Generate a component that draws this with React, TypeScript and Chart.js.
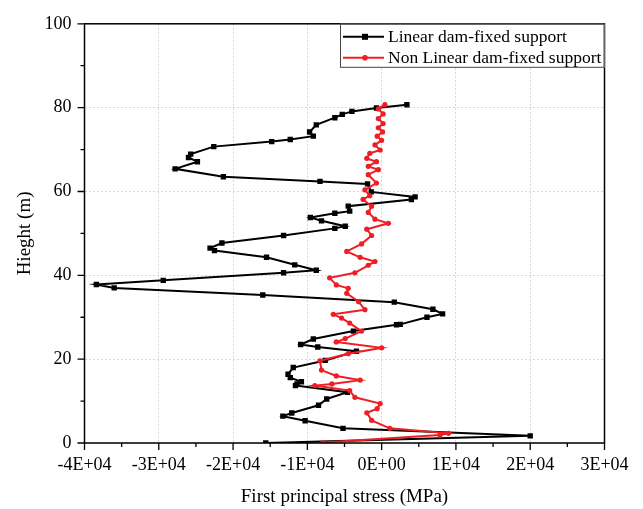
import React, { useEffect, useRef } from 'react';
import { Chart, registerables } from 'chart.js';

Chart.register(...registerables);

// Linear dam-fixed support (black)
const linearStress = [
  -15600, 20000, -5200, -10300, -13300, -12100, -8500, -7400, -4600, -11600,
  -11400, -10800, -12300, -12600, -11900, -7600, -3400, -8600, -10900, -9200,
  -3800, 2000, 2500, 6100, 8200, 6900, 1700, -16000, -36000, -38400,
  -29400, -13200, -8800, -11700, -15500, -22500, -23100, -21500, -13200, -6300,
  -4900, -8100, -9600, -6300, -4300, -4500, 4000, 4500, -1400, -1900,
  -8300, -21300, -27800, -24800, -26000, -25700, -22600, -14800, -12300, -9200,
  -9700, -8800, -6300, -5300, -4000, -700, 3400,
];
const linearHeight = [
  0, 1.7, 3.5, 5.3, 6.4, 7.15, 9.0, 10.5, 12.1, 13.7,
  14.1, 14.6, 15.6, 16.4, 18.0, 19.7, 21.9, 22.9, 23.5, 24.8,
  26.7, 28.2, 28.3, 30.0, 30.8, 31.9, 33.6, 35.3, 37.0, 37.8,
  38.8, 40.6, 41.2, 42.5, 44.3, 45.9, 46.5, 47.7, 49.5, 51.2,
  51.7, 53.0, 53.8, 54.8, 55.3, 56.5, 58.1, 58.7, 59.9, 61.8,
  62.4, 63.5, 65.4, 67.1, 68.1, 68.9, 70.7, 71.9, 72.4, 73.2,
  74.2, 75.9, 77.6, 78.4, 79.1, 79.9, 80.7,
];

// Non Linear dam-fixed support (red)
const nonLinearStress = [
  -7900, 7850, 9000, 1100, -1350, -2000, -600, -200, -3600, -4300,
  -9000, -6700, -2900, -6100, -8100, -8300, -4500, 0, -6100, -4900,
  -2700, -4300, -5400, -6500, -2250, -3100, -4700, -4500, -6100, -7000,
  -3600, -1800, -900, -2900, -4700, -2700, -1350, -2000, 900, -900,
  -1800, -1350, -2500, -1600, -2250, -700, -1800, -450, -1800, -700,
  -2000, -1600, -200, -900, 0, -600, 130, -450, 200, -450,
  200, -450, 440,
];
const nonLinearHeight = [
  0.1, 1.9, 2.3, 3.5, 5.4, 7.2, 8.2, 9.4, 10.9, 12.5,
  13.7, 14.1, 15.0, 16.0, 17.4, 19.6, 21.3, 22.7, 24.1, 24.9,
  26.7, 28.6, 29.8, 30.7, 31.8, 33.7, 35.7, 36.9, 37.7, 39.4,
  40.6, 42.4, 43.3, 44.3, 45.7, 47.5, 49.5, 51.0, 52.4, 53.4,
  55.0, 56.5, 58.1, 59.0, 60.4, 62.0, 64.0, 65.2, 66.0, 67.1,
  67.9, 69.1, 69.9, 71.1, 72.2, 73.2, 74.2, 75.2, 76.2, 77.4,
  78.5, 79.7, 80.7,
];

const seriesNames = ['Linear dam-fixed support', 'Non Linear dam-fixed support'];

const xTickValues = [-40000, -30000, -20000, -10000, 0, 10000, 20000, 30000];
const xTickLabels = ['-4E+04', '-3E+04', '-2E+04', '-1E+04', '0E+00', '1E+04', '2E+04', '3E+04'];
const yTickValues = [0, 20, 40, 60, 80, 100];
const yTickLabels = ['0', '20', '40', '60', '80', '100'];

const xTitle = 'First principal stress (MPa)';
const yTitle = 'Hieght (m)';

const FONT = "'Liberation Serif', 'Times New Roman', serif";
const RED = 'rgb(238,30,36)';

const frameAndLegend = {
  id: 'frameAndLegend',
  afterDraw(chart: any) {
    const { ctx, chartArea: a, scales } = chart;
    const xs = scales.x;
    const ys = scales.y;
    ctx.save();
    // frame
    ctx.strokeStyle = '#000';
    ctx.lineWidth = 1.5;
    ctx.strokeRect(a.left, a.top, a.right - a.left, a.bottom - a.top);
    // tick marks
    ctx.lineWidth = 1.3;
    ctx.beginPath();
    for (let v = xs.min; v <= xs.max; v += 5000) {
      const p = xs.getPixelForValue(v);
      const len = v % 10000 === 0 ? 7 : 4;
      ctx.moveTo(p, a.bottom);
      ctx.lineTo(p, a.bottom + len);
    }
    for (let v = ys.min; v <= ys.max; v += 10) {
      const p = ys.getPixelForValue(v);
      const len = v % 20 === 0 ? 7 : 4;
      ctx.moveTo(a.left, p);
      ctx.lineTo(a.left - len, p);
    }
    ctx.stroke();

    // legend
    const bx = 340;
    const by = a.top;
    const bw = a.right - bx;
    const bh = 44;
    ctx.fillStyle = '#fff';
    ctx.fillRect(bx, by, bw, bh);
    ctx.strokeStyle = '#444';
    ctx.lineWidth = 1;
    ctx.strokeRect(bx + 0.5, by + 0.5, bw - 1, bh - 1);
    const rows = [by + 13, by + 34];
    chart.data.datasets.forEach((ds: any, i: number) => {
      const y = rows[i];
      ctx.strokeStyle = ds.borderColor;
      ctx.lineWidth = 2;
      ctx.beginPath();
      ctx.moveTo(343, y);
      ctx.lineTo(384, y);
      ctx.stroke();
      ctx.fillStyle = ds.borderColor;
      if (ds.pointStyle === 'rect') {
        ctx.fillRect(362, y - 3, 6, 6);
      } else {
        ctx.beginPath();
        ctx.arc(365, y, 2.8, 0, Math.PI * 2);
        ctx.fill();
      }
      ctx.fillStyle = '#000';
      ctx.font = `17.5px ${FONT}`;
      ctx.textBaseline = 'middle';
      ctx.textAlign = 'left';
      ctx.fillText(ds.label, 388, y + 1);
    });
    ctx.restore();
  },
};

export default function App() {
  const ref = useRef<HTMLCanvasElement | null>(null);
  useEffect(() => {
    if (!ref.current) return;
    const black = linearStress.map((s, i) => ({ x: s, y: linearHeight[i] }));
    const red = nonLinearStress.map((s, i) => ({ x: s, y: nonLinearHeight[i] }));
    const gridColor = (major: number) => (c: any) => {
      const v = c.tick ? c.tick.value : 0;
      return v % major === 0 ? '#d6d6d6' : 'rgba(0,0,0,0)';
    };
    const chart = new Chart(ref.current, {
      type: 'line',
      data: {
        datasets: [
          {
            label: seriesNames[0],
            data: black,
            borderColor: '#000',
            backgroundColor: '#000',
            borderWidth: 2,
            pointStyle: 'rect',
            pointRadius: 3.8,
            pointBorderWidth: 0,
            tension: 0,
            order: 2,
          },
          {
            label: seriesNames[1],
            data: red,
            borderColor: RED,
            backgroundColor: RED,
            borderWidth: 2,
            pointStyle: 'circle',
            pointRadius: 2.6,
            pointBorderWidth: 0,
            tension: 0,
            order: 1,
          },
        ],
      },
      options: {
        responsive: false,
        animation: false,
        devicePixelRatio: 1,
        layout: { padding: { top: 19, right: 38.5, left: 0, bottom: 0 } },
        plugins: { legend: { display: false }, tooltip: { enabled: false } },
        scales: {
          x: {
            type: 'linear',
            min: -40000,
            max: 30000,
            afterFit: (s: any) => { s.height = 66; },
            ticks: {
              stepSize: 5000,
              autoSkip: false,
              maxRotation: 0,
              padding: 11,
              color: '#000',
              font: { family: FONT, size: 18 },
              callback: (v: any) => {
                const i = xTickValues.indexOf(Number(v));
                return i >= 0 ? xTickLabels[i] : '';
              },
            },
            grid: { drawTicks: false, color: gridColor(10000), lineWidth: 1 },
            border: { display: false, dash: [2, 2] },
            title: {
              display: true,
              text: xTitle,
              color: '#000',
              font: { family: FONT, size: 19 },
              padding: { top: 0, bottom: 1 },
            },
          },
          y: {
            type: 'linear',
            min: 0,
            max: 100,
            afterFit: (s: any) => { s.width = 84.5; },
            ticks: {
              stepSize: 10,
              autoSkip: false,
              padding: 13,
              color: '#000',
              font: { family: FONT, size: 18 },
              callback: (v: any) => {
                const i = yTickValues.indexOf(Number(v));
                return i >= 0 ? yTickLabels[i] : '';
              },
            },
            grid: { drawTicks: false, color: gridColor(20), lineWidth: 1 },
            border: { display: false, dash: [2, 2] },
            title: {
              display: true,
              text: yTitle,
              color: '#000',
              font: { family: FONT, size: 19 },
              padding: { top: 13.5, bottom: 0 },
            },
          },
        },
      },
      plugins: [frameAndLegend],
    } as any);
    return () => chart.destroy();
  }, []);
  return (
    <div style={{ position: 'absolute', left: 0, top: 0, width: 643, height: 509, background: '#fff' }}>
      <canvas ref={ref} width={643} height={509} />
    </div>
  );
}
